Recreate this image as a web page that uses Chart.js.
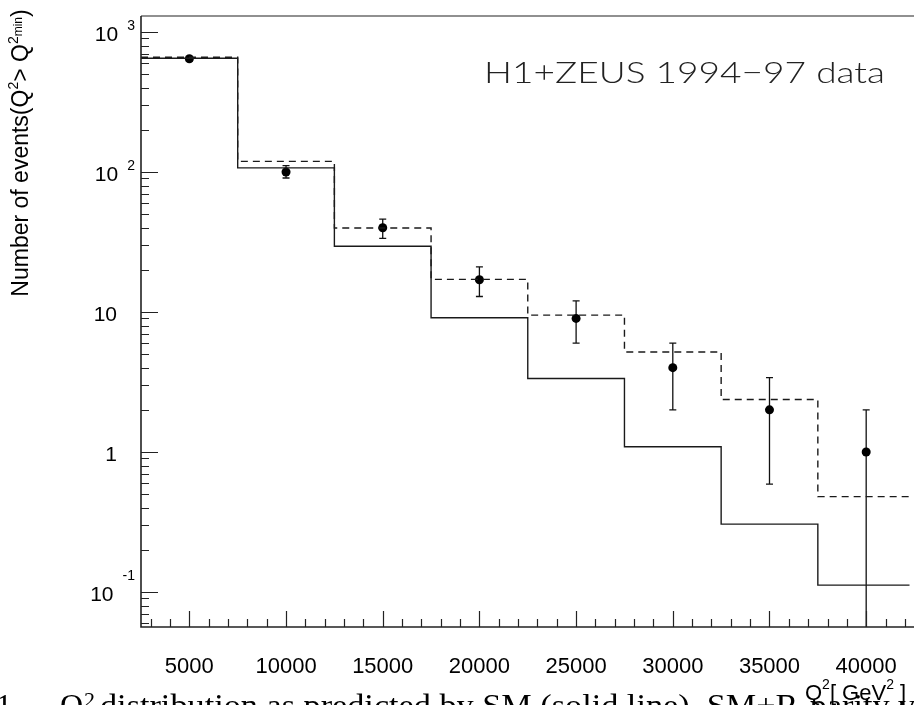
<!DOCTYPE html>
<html>
<head>
<meta charset="utf-8">
<script src="https://cdn.jsdelivr.net/npm/chart.js@4.4.1/dist/chart.umd.min.js"></script>
<style>
html, body { margin: 0; padding: 0; background: #fff; overflow: hidden; }
canvas { display: block; }
</style>
</head>
<body>
<canvas id="myChart" width="914" height="705"></canvas>
<script>
const ctx = document.getElementById("myChart");

// Bin edges of the Q2 histograms (GeV^2)
const binEdges = [2500, 7500, 12500, 17500, 22500, 27500, 32500, 37500, 42500];
// SM prediction, solid line
const smEvents = [650, 107, 29.5, 9.1, 3.35, 1.09, 0.305, 0.112];
// SM + R-parity violating prediction, dashed line
const rpvEvents = [660, 119, 39.8, 17.1, 9.5, 5.18, 2.37, 0.48];

// H1+ZEUS data points
const dataQ2 = [5000, 10000, 15000, 20000, 25000, 30000, 35000, 40000];
const dataEvents = [644, 100, 40, 17, 9, 4, 2, 1];
const dataErrHigh = [668, 111, 46, 21, 12, 6, 3.4, 2];
const dataErrLow = [620, 90.6, 33.6, 12.9, 6, 2, 0.59, 0];

// Tick labels
const xTickValues = [5000, 10000, 15000, 20000, 25000, 30000, 35000, 40000];
const yTickValues = [1000, 100, 10, 1, 0.1];
const yTickLabels = [["10", "3"], ["10", "2"], ["10", ""], ["1", ""], ["10", "-1"]];

const X_MIN = 2500;
const X_MAX = 42240;
const Y_MIN = 0.0562;
const Y_MAX = 1301;

const SANS = "'Liberation Sans', Arial, Helvetica, sans-serif";
const SERIF = "'Liberation Serif', 'Times New Roman', serif";

// one point per bin edge, the last edge repeats the last bin value
function stepPoints(edges, values) {
    return edges.map((x, i) => ({ x: x, y: values[Math.min(i, values.length - 1)] }));
}

// draw a run of text pieces [text, fontSize, raise] starting at x
function drawPieces(c, pieces, x, y, family) {
    let pos = x;
    pieces.forEach(([text, size, raise]) => {
        c.font = `${size}px ${family}`;
        c.fillText(text, pos, y - raise);
        pos += c.measureText(text).width;
    });
    return pos;
}

function piecesWidth(c, pieces, family) {
    let w = 0;
    pieces.forEach(([text, size]) => {
        c.font = `${size}px ${family}`;
        w += c.measureText(text).width;
    });
    return w;
}

const errorBars = {
    id: "errorBars",
    beforeDatasetsDraw(chart) {
        const c = chart.ctx;
        const xs = chart.scales.x;
        const ys = chart.scales.y;
        c.save();
        c.strokeStyle = "#111";
        c.lineWidth = 1.3;
        dataQ2.forEach((q, i) => {
            const x = xs.getPixelForValue(q);
            const top = ys.getPixelForValue(dataErrHigh[i]);
            const hasLow = dataErrLow[i] > Y_MIN;
            const low = hasLow ? ys.getPixelForValue(dataErrLow[i]) : chart.chartArea.bottom;
            c.beginPath();
            c.moveTo(x, top);
            c.lineTo(x, low);
            c.moveTo(x - 3.5, top);
            c.lineTo(x + 3.5, top);
            if (hasLow) {
                c.moveTo(x - 3.5, low);
                c.lineTo(x + 3.5, low);
            }
            c.stroke();
        });
        c.restore();
    }
};

const frame = {
    id: "frame",
    afterDatasetsDraw(chart) {
        const c = chart.ctx;
        const area = chart.chartArea;
        const xs = chart.scales.x;
        const ys = chart.scales.y;
        c.save();

        // axes
        c.strokeStyle = "#222";
        c.lineWidth = 1.6;
        c.beginPath();
        c.moveTo(area.left, area.top);
        c.lineTo(area.left, area.bottom);
        c.lineTo(914, area.bottom);
        c.stroke();
        c.lineWidth = 1.2;
        c.beginPath();
        c.moveTo(area.left, area.top);
        c.lineTo(914, area.top);
        c.stroke();

        // x ticks (inward)
        c.lineWidth = 1.2;
        c.beginPath();
        for (let v = 3000; v <= X_MAX; v += 1000) {
            const x = Math.round(xs.getPixelForValue(v)) + 0.5;
            const len = xTickValues.includes(v) ? 16 : 8;
            c.moveTo(x, area.bottom);
            c.lineTo(x, area.bottom - len);
        }
        // y ticks (inward)
        for (let k = -2; k <= 3; k++) {
            for (let m = 1; m <= 9; m++) {
                const v = m * Math.pow(10, k);
                if (v < Y_MIN || v > Y_MAX) continue;
                const y = Math.round(ys.getPixelForValue(v)) + 0.5;
                const len = m === 1 ? 17 : 8;
                c.moveTo(area.left, y);
                c.lineTo(area.left + len, y);
            }
        }
        c.stroke();

        c.fillStyle = "#000";
        c.textBaseline = "alphabetic";

        // x tick labels
        c.font = `22px ${SANS}`;
        c.textAlign = "center";
        xTickValues.forEach(v => {
            c.fillText(String(v), xs.getPixelForValue(v), 673);
        });

        // y tick labels
        yTickValues.forEach((v, i) => {
            const y = ys.getPixelForValue(v);
            const [base, exp] = yTickLabels[i];
            c.textAlign = "right";
            if (exp) {
                // negative exponents sit higher, as in the original
                const raise = exp.startsWith("-") ? 12 : 2;
                c.font = `14px ${SANS}`;
                const ew = c.measureText(exp).width;
                c.fillText(exp, 135, y - raise);
                c.font = `21px ${SANS}`;
                c.fillText(base, 135 - ew - 9, y + 9);
            } else {
                c.font = `21px ${SANS}`;
                c.fillText(base, 117, y + 9);
            }
        });

        // x axis title
        c.textAlign = "left";
        drawPieces(c, [["Q", 22, 0], ["2", 14, 11], ["[ GeV", 22, 0], ["2", 14, 11], [" ]", 22, 0]], 805, 700, SANS);

        // y axis title
        const yTitle = [["Number of events(Q", 23, 0], ["2", 14, 10], ["> Q", 23, 0], ["2", 14, 10], ["min", 12, 6], [")", 23, 0]];
        const tw = piecesWidth(c, yTitle, SANS);
        c.save();
        c.translate(28, 153 + tw / 2);
        c.rotate(-Math.PI / 2);
        drawPieces(c, yTitle, 0, 0, SANS);
        c.restore();

        // data label
        const label = "H1+ZEUS 1994\u221297 data";
        c.font = `300 29px Lato, 'DejaVu Sans', ${SANS}`;
        const lw = c.measureText(label).width;
        c.save();
        c.translate(484, 83);
        c.scale(401 / lw, 1);
        c.fillStyle = "#222";
        c.fillText(label, 0, 0);
        c.restore();

        // caption (cut by the page edge)
        c.fillStyle = "#000";
        c.font = `32px ${SERIF}`;
        c.fillText("1.", -4, 716);
        c.fillText("Q", 60, 716);
        c.font = `22px ${SERIF}`;
        c.fillText("2", 84, 707);
        c.save();
        c.translate(100, 716);
        c.scale(1.07, 1);
        c.font = `32px ${SERIF}`;
        c.fillText("distribution as predicted by SM (solid line), SM+R-parity violating", 0, 0);
        c.restore();

        c.restore();
    }
};

const chart = new Chart(ctx, {
    type: "line",
    data: {
        datasets: [
            {
                label: "SM",
                data: stepPoints(binEdges, smEvents),
                stepped: "before",
                borderColor: "#1a1a1a",
                borderWidth: 1.4,
                pointRadius: 0,
                fill: false
            },
            {
                label: "SM + RPV",
                data: stepPoints(binEdges, rpvEvents),
                stepped: "before",
                borderColor: "#1a1a1a",
                borderWidth: 1.4,
                borderDash: [7, 5],
                pointRadius: 0,
                fill: false
            },
            {
                label: "H1+ZEUS",
                data: dataQ2.map((q, i) => ({ x: q, y: dataEvents[i] })),
                showLine: false,
                pointRadius: 4.5,
                pointBackgroundColor: "#000",
                pointBorderColor: "#000",
                pointBorderWidth: 0
            }
        ]
    },
    options: {
        responsive: false,
        devicePixelRatio: 1,
        animation: false,
        layout: {
            padding: { left: 141, top: 16, right: 0, bottom: 78 }
        },
        scales: {
            x: { type: "linear", min: X_MIN, max: X_MAX, display: false },
            y: { type: "logarithmic", min: Y_MIN, max: Y_MAX, display: false }
        },
        plugins: {
            legend: { display: false },
            tooltip: { enabled: false }
        }
    },
    plugins: [errorBars, frame]
});
</script>
</body>
</html>
